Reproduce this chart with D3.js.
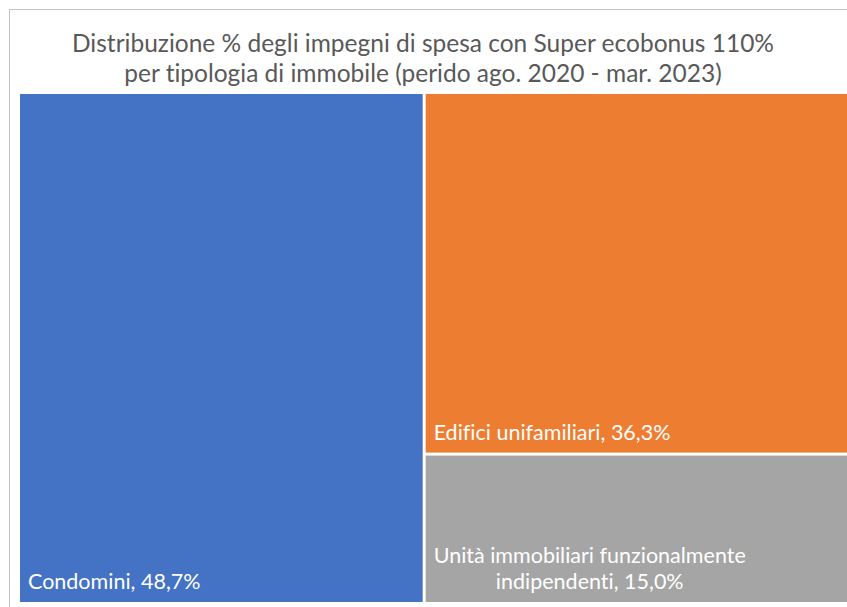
<!DOCTYPE html>
<html>
<head>
<meta charset="utf-8">
<script src="https://cdn.jsdelivr.net/npm/d3@7"></script>
<style>
  body { margin: 0; background: #fff; }
  svg { display: block; }
  text { font-variant-ligatures: none; }
</style>
</head>
<body>
<div class="vis-treemap"></div>
<script>
const categories = ["Condomini", "Edifici unifamiliari", "Unità immobiliari funzionalmente indipendenti"];
const shares = [48.7, 36.3, 15.0];
const labelLines = [
    ["Condomini, 48,7%"],
    ["Edifici unifamiliari, 36,3%"],
    ["Unità immobiliari funzionalmente", "indipendenti, 15,0%"]
];
const colors = ["#4472C4", "#ED7D31", "#A5A5A5"];
const titleLines = [
    "Distribuzione % degli impegni di spesa con Super ecobonus 110%",
    "per tipologia di immobile (perido ago. 2020 - mar. 2023)"
];

const width = 847, height = 607;
const margin = { top: 94, left: 20 };
const font = "Lato, 'Noto Sans', sans-serif";

const svg = d3.select(".vis-treemap")
    .append("svg")
    .attr("width", width)
    .attr("height", height);

// chart frame (cut by the window on right/bottom)
svg.append("rect")
    .attr("x", 9.5)
    .attr("y", 9.5)
    .attr("width", 900)
    .attr("height", 700)
    .attr("fill", "#fff")
    .attr("stroke", "#c4c4c4")
    .attr("stroke-width", 1);

// title
svg.append("g")
    .selectAll("text")
    .data(titleLines)
    .enter()
    .append("text")
    .attr("x", 423)
    .attr("y", (d, i) => 52 + i * 30)
    .attr("text-anchor", "middle")
    .style("font-family", font)
    .style("font-size", "24.5px")
    .attr("fill", "#595959")
    .text(d => d);

// treemap layout (binary split: blue | orange over gray)
const data = categories.map((c, i) => ({ name: c, value: shares[i], lines: labelLines[i], color: colors[i] }));
const root = d3.hierarchy({ children: data })
    .sum(d => d.value || 0);

d3.treemap()
    .tile(d3.treemapBinary)
    .size([830, 508])
    .paddingInner(3)
    (root);

const plot = svg.append("g")
    .attr("transform", "translate(" + margin.left + "," + margin.top + ")");

const cells = plot.selectAll(".cell")
    .data(root.leaves())
    .enter()
    .append("g")
    .attr("class", "cell");

cells.append("rect")
    .attr("x", d => d.x0)
    .attr("y", d => d.y0)
    .attr("width", d => d.x1 - d.x0)
    .attr("height", d => d.y1 - d.y0)
    .attr("fill", d => d.data.color);

const lineHeight = 26;
cells.each(function (d) {
    const g = d3.select(this);
    const lines = d.data.lines;
    const text = g.append("text")
        .attr("fill", "#fff")
        .style("font-family", font)
        .style("font-size", "21.5px");
    const tspans = text.selectAll("tspan")
        .data(lines)
        .enter()
        .append("tspan")
        .attr("y", (l, i) => d.y1 - 13 - (lines.length - 1 - i) * lineHeight)
        .text(l => l);
    // lines are centred on the widest one, block starts at left padding
    let maxW = 0;
    tspans.each(function () { maxW = Math.max(maxW, this.getComputedTextLength()); });
    tspans.attr("x", d.x0 + 8 + maxW / 2).attr("text-anchor", "middle");
});
</script>
</body>
</html>
